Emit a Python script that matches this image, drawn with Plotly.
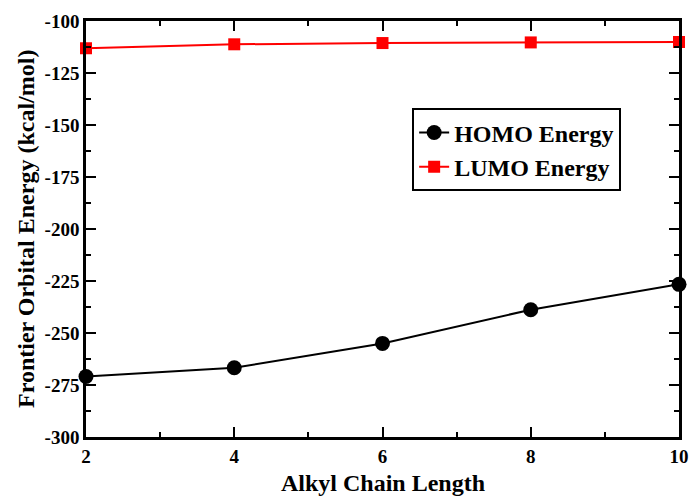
import plotly.graph_objects as go

chain_length = [2, 4, 6, 8, 10]
homo_energy = [-270.9, -266.7, -255.0, -238.8, -226.6]
lumo_energy = [-113.1, -111.2, -110.6, -110.3, -110.1]

FONT = "Liberation Serif"

fig = go.Figure()
fig.add_trace(go.Scatter(
    x=chain_length, y=homo_energy, name="<b>HOMO Energy</b>",
    mode="lines+markers", line=dict(color="black", width=2),
    marker=dict(symbol="circle", size=15, color="black"),
    cliponaxis=False))
fig.add_trace(go.Scatter(
    x=chain_length, y=lumo_energy, name="<b>LUMO Energy</b>",
    mode="lines+markers", line=dict(color="red", width=2),
    marker=dict(symbol="square", size=12, color="red"),
    cliponaxis=False))

axis_common = dict(
    showline=True, linecolor="black", linewidth=2.5, mirror="ticks",
    ticks="inside", ticklen=10, tickwidth=2, tickcolor="black",
    showgrid=False, zeroline=False, automargin=False,
    tickfont=dict(family=FONT, size=19, color="black"),
)

fig.update_layout(
    width=690, height=500,
    margin=dict(l=86, r=11, t=21, b=63),
    plot_bgcolor="white", paper_bgcolor="white",
    font=dict(family=FONT, color="black"),
    showlegend=True,
    legend=dict(
        x=0.55, y=0.79, xanchor="left", yanchor="top",
        bordercolor="black", borderwidth=2, bgcolor="white",
        font=dict(family=FONT, size=24, color="black"),
        itemwidth=30, tracegroupgap=0,
    ),
    xaxis=dict(
        range=[2, 10], tickvals=[2, 4, 6, 8, 10],
        ticktext=["<b>2</b>", "<b>4</b>", "<b>6</b>", "<b>8</b>", "<b>10</b>"],
        minor=dict(ticks="inside", ticklen=5, tickwidth=2, tickcolor="black", dtick=1, tick0=2),
        **axis_common,
    ),
    yaxis=dict(
        range=[-300, -100], tickvals=list(range(-300, -99, 25)),
        ticktext=[f"<b>{v}</b>" for v in range(-300, -99, 25)],
        minor=dict(ticks="inside", ticklen=5, tickwidth=2, tickcolor="black", dtick=12.5, tick0=-300),
        **axis_common,
    ),
    annotations=[
        dict(text="<b>Alkyl Chain Length</b>", xref="paper", yref="paper",
             x=0.5, y=0, yshift=-46, xanchor="center", yanchor="middle",
             showarrow=False, font=dict(family=FONT, size=24, color="black")),
        dict(text="<b>Frontier Orbital Energy (kcal/mol)</b>", xref="paper", yref="paper",
             x=0, y=0.5, xshift=-60, xanchor="center", yanchor="middle", textangle=-90,
             showarrow=False, font=dict(family=FONT, size=24, color="black")),
    ],
)

fig.write_html("out.html")
